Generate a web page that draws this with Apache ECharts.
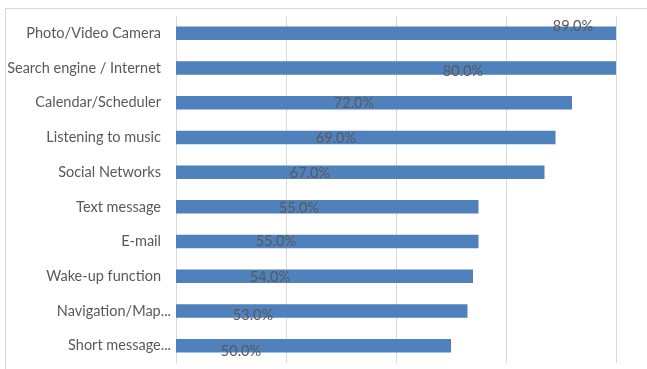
<!DOCTYPE html>
<html>
<head>
<meta charset="utf-8">
<script src="https://cdn.jsdelivr.net/npm/echarts@6/dist/echarts.min.js"></script>
<style>
  html, body { margin: 0; padding: 0; background: #fff; }
  #chart { width: 647px; height: 369px; }
</style>
</head>
<body>
<div id="chart"></div>
<script>
// categories listed top to bottom as they appear
const categories = [
    'Photo/Video Camera',
    'Search engine / Internet',
    'Calendar/Scheduler',
    'Listening to music',
    'Social Networks',
    'Text message',
    'E-mail',
    'Wake-up function',
    'Navigation/Map...',
    'Short message...'
];
const shares = [0.89, 0.80, 0.72, 0.69, 0.67, 0.55, 0.55, 0.54, 0.53, 0.50];
const gridTicks = [0, 0.2, 0.4, 0.6, 0.8];

// labels were dragged around by hand in the original, offsets from bar start
const labelOffsets = [
    [397, 0], [287, 10], [178, 7], [160, 8], [134, 8],
    [123, 8], [100, 7], [94, 8], [77, 11], [65, 12]
];

const myChart = echarts.init(document.getElementById('chart'));

const option = {
    animation: false,
    graphic: [
        {
            type: 'rect',
            shape: { x: 5.5, y: 8.5, width: 660, height: 380 },
            style: { fill: 'none', stroke: '#d9d9d9', lineWidth: 1 },
            silent: true,
            z: -1
        }
    ],
    grid: {
        left: 176,
        right: 31,
        top: 16,
        bottom: 6
    },
    xAxis: {
        type: 'value',
        min: gridTicks[0],
        max: gridTicks[gridTicks.length - 1],
        interval: 0.2,
        axisLabel: { show: false },
        axisLine: { show: false },
        axisTick: { show: false },
        splitLine: { lineStyle: { color: '#d9d9d9', width: 1 } }
    },
    yAxis: {
        type: 'category',
        inverse: true,
        // truncated names sit closer to the axis in the original
        data: categories.map(c => c.endsWith('...')
            ? { value: c, textStyle: { padding: [0, -10, 0, 0], letterSpacing: -0.6 } }
            : c),
        axisLine: { show: true, lineStyle: { color: '#d9d9d9' } },
        axisTick: { show: false },
        axisLabel: {
            margin: 15,
            color: '#595959',
            fontFamily: 'Lato',
            fontSize: 14.5
        }
    },
    series: [
        {
            type: 'bar',
            data: shares.map((v, i) => ({
                value: v,
                label: { position: labelOffsets[i] }
            })),
            barWidth: '39%',
            clip: true,
            itemStyle: { color: '#4f81bd' },
            label: {
                show: true,
                align: 'center',
                verticalAlign: 'middle',
                color: '#595959',
                fontFamily: 'Lato',
                fontSize: 14.5,
                formatter: p => (p.value * 100).toFixed(1) + '%'
            }
        }
    ]
};

myChart.setOption(option);
window.addEventListener('resize', () => {
    myChart.resize();
});
</script>
</body>
</html>
